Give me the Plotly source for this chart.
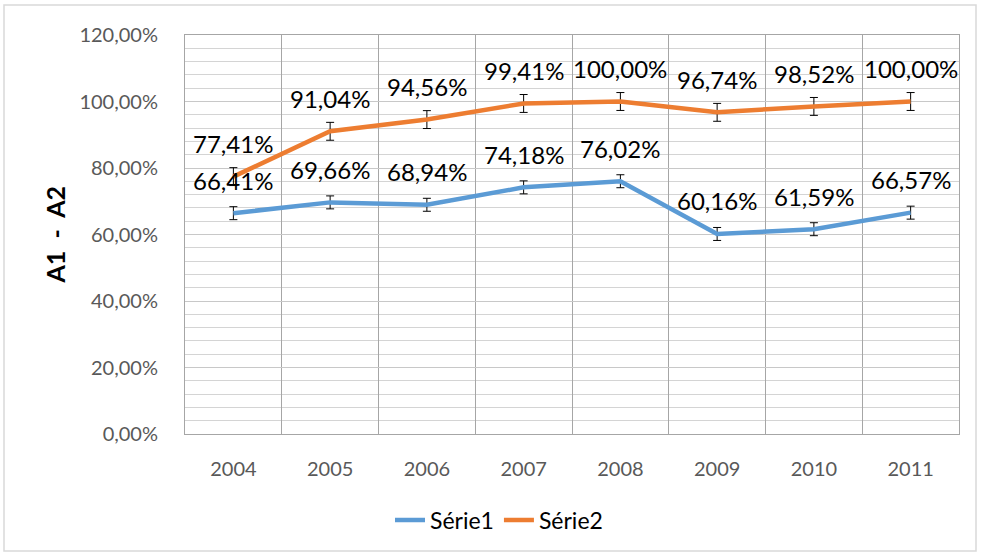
import plotly.graph_objects as go

years = ["2004", "2005", "2006", "2007", "2008", "2009", "2010", "2011"]
serie1 = [66.41, 69.66, 68.94, 74.18, 76.02, 60.16, 61.59, 66.57]
serie2 = [77.41, 91.04, 94.56, 99.41, 100.00, 96.74, 98.52, 100.00]
serie1_labels = ["66,41%", "69,66%", "68,94%", "74,18%", "76,02%", "60,16%", "61,59%", "66,57%"]
serie2_labels = ["77,41%", "91,04%", "94,56%", "99,41%", "100,00%", "96,74%", "98,52%", "100,00%"]
serie1_err = 1.95
serie2_err = 2.69
y_tickvals = [0, 20, 40, 60, 80, 100, 120]
y_ticktext = ["0,00%", "20,00%", "40,00%", "60,00%", "80,00%", "100,00%", "120,00%"]

FONT = "Lato"
W, H = 982, 558
L, R, T, B = 185, 23, 35, 124
PW, PH = W - L - R, H - T - B

fig = go.Figure()
for name, vals, err, color in [("Série1", serie1, serie1_err, "#5b9bd5"),
                               ("Série2", serie2, serie2_err, "#ed7d31")]:
    fig.add_trace(go.Scatter(
        x=years, y=vals, name=name, mode="lines",
        line=dict(color=color, width=4.5),
        error_y=dict(type="constant", value=err, color="black", thickness=1, width=4),
    ))

# category axes: annotations are positioned by category index
for vals, labels in [(serie1, serie1_labels), (serie2, serie2_labels)]:
    for i, (v, t) in enumerate(zip(vals, labels)):
        fig.add_annotation(x=i, y=v, text=t, showarrow=False, yshift=33,
                           font=dict(family=FONT, size=24, color="black"))

fig.add_annotation(xref="paper", yref="paper", x=-(L - 54) / PW, y=0.5,
                   xanchor="center", yanchor="middle",
                   text="<b>A1  -  A2</b>", textangle=-90, showarrow=False,
                   font=dict(family=FONT, size=25, color="black"))

fig.update_layout(
    width=W, height=H,
    margin=dict(l=L, r=R, t=T, b=B),
    paper_bgcolor="white", plot_bgcolor="white",
    font=dict(family=FONT, color="#595959", size=20),
    showlegend=True,
    legend=dict(orientation="h", x=(W / 2 + 8 - L) / PW, xanchor="center",
                y=-(B - 38) / PH, yanchor="middle",
                font=dict(family=FONT, size=23, color="black")),
    shapes=[dict(type="rect", xref="paper", yref="paper",
                 x0=-(L - 4) / PW, x1=1 + (R - 6) / PW,
                 y0=-(B - 7) / PH, y1=1 + (T - 5) / PH,
                 line=dict(color="#d9d9d9", width=1.5), layer="below")],
)

fig.update_xaxes(
    type="category", tickson="boundaries", ticks="", ticklabelstandoff=17,
    showgrid=True,
    gridcolor="#a6a6a6", gridwidth=1, showline=True, linecolor="#a6a6a6", mirror=True,
    tickfont=dict(family=FONT, size=20, color="#595959"),
    range=[-0.5, 7.5],
)
fig.update_yaxes(
    range=[0, 120], tickvals=y_tickvals, ticktext=y_ticktext,
    ticks="outside", ticklen=22, tickcolor="rgba(0,0,0,0)",
    showgrid=True, gridcolor="#c8c8c8", gridwidth=1,
    minor=dict(dtick=4, showgrid=True, gridcolor="#d4d4d4", gridwidth=1),
    showline=True, linecolor="#a6a6a6", mirror=True, zeroline=False,
    tickfont=dict(family=FONT, size=20, color="#595959"),
)

fig.write_html("out.html", config={"displayModeBar": False},
               post_script="document.body.style.margin='0';document.body.style.overflow='hidden';")
